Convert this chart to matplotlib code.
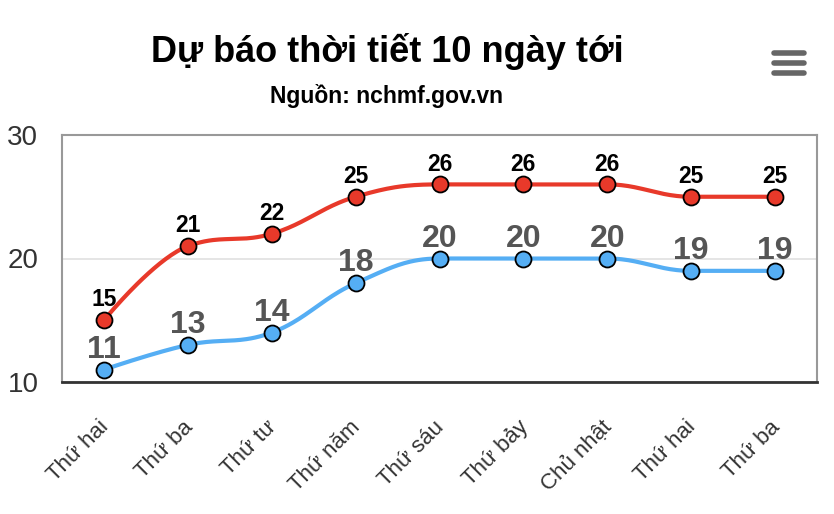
import matplotlib
matplotlib.use("Agg")
import matplotlib.pyplot as plt
from matplotlib.lines import Line2D
import matplotlib.transforms as mtransforms
import numpy as np

plt.rcParams['font.family'] = ['Liberation Sans', 'DejaVu Sans']

days = ['Thứ hai', 'Thứ ba', 'Thứ tư', 'Thứ năm', 'Thứ sáu', 'Thứ bảy', 'Chủ nhật', 'Thứ hai', 'Thứ ba']
temp_max = [15, 21, 22, 25, 26, 26, 26, 25, 25]
temp_min = [11, 13, 14, 18, 20, 20, 20, 19, 19]
y_ticks = [10, 20, 30]


def spline(xs, ys, n=40):
    # highcharts-like spline through the points (cubic beziers)
    xs = list(map(float, xs)); ys = list(map(float, ys))
    sm = 1.5; den = sm + 1
    rc = [None] * len(xs)
    lc = [None] * len(xs)
    for i in range(1, len(xs) - 1):
        px, py = xs[i], ys[i]
        lx, ly = xs[i - 1], ys[i - 1]
        nx, ny = xs[i + 1], ys[i + 1]
        lcx = (sm * px + lx) / den; lcy = (sm * py + ly) / den
        rcx = (sm * px + nx) / den; rcy = (sm * py + ny) / den
        corr = (rcy - lcy) * (rcx - px) / (rcx - lcx) + py - rcy
        lcy += corr; rcy += corr
        if lcy > ly and lcy > py:
            lcy = max(ly, py); rcy = 2 * py - lcy
        elif lcy < ly and lcy < py:
            lcy = min(ly, py); rcy = 2 * py - lcy
        if rcy > ny and rcy > py:
            rcy = max(ny, py); lcy = 2 * py - rcy
        elif rcy < ny and rcy < py:
            rcy = min(ny, py); lcy = 2 * py - rcy
        lc[i] = (lcx, lcy); rc[i] = (rcx, rcy)
    t = np.linspace(0, 1, n)
    outx, outy = [], []
    for i in range(1, len(xs)):
        p0 = (xs[i - 1], ys[i - 1])
        p1 = rc[i - 1] if rc[i - 1] else p0
        p3 = (xs[i], ys[i])
        p2 = lc[i] if lc[i] else p3
        bx = (1-t)**3*p0[0] + 3*(1-t)**2*t*p1[0] + 3*(1-t)*t**2*p2[0] + t**3*p3[0]
        by = (1-t)**3*p0[1] + 3*(1-t)**2*t*p1[1] + 3*(1-t)*t**2*p2[1] + t**3*p3[1]
        outx.extend(bx); outy.extend(by)
    return outx, outy


fig = plt.figure(figsize=(8.34, 5.14), dpi=100)
ax = fig.add_axes([62/834, 132/514, 755/834, 247/514])

x = np.arange(len(days))
series = [(temp_max, '#e8392a', 'black', 16.5, 10), (temp_min, '#55aef4', '#555555', 23, 8.5)]
for vals, col, lab_col, fs, off in series:
    sx, sy = spline(x, vals)
    ax.plot(sx, sy, color=col, lw=3, solid_capstyle='round', zorder=3)
    ax.plot(x, vals, 'o', ms=11.5, mfc=col, mec='black', mew=1.3, zorder=4)
    for xi, v in zip(x, vals):
        ax.annotate(str(v), (xi, v), xytext=(0, off), textcoords='offset points',
                    ha='center', va='baseline', fontsize=fs, fontweight='bold',
                    color=lab_col, zorder=5)

ax.set_xlim(-0.5, len(days) - 0.5)
ax.set_ylim(10, 30)
ax.set_yticks(y_ticks)
ax.set_yticklabels([str(v) for v in y_ticks], fontsize=20, color='#333333')
ax.set_xticks(x)
ax.set_xticklabels(days, rotation=45, ha='right', va='center_baseline',
                   rotation_mode='anchor', fontsize=16, color='#333333')
shift = mtransforms.ScaledTranslation(9/100, 0, fig.dpi_scale_trans)
for lab in ax.get_xticklabels():
    lab.set_transform(lab.get_transform() + shift)
ax.tick_params(axis='both', length=0)
ax.tick_params(axis='y', pad=17)
ax.tick_params(axis='x', pad=29)
ax.grid(axis='y', color='#e0e0e0', lw=1.2, zorder=0)
ax.set_axisbelow(True)
for s in ['left', 'top', 'right']:
    ax.spines[s].set_color('#999999')
    ax.spines[s].set_linewidth(1.5)
ax.spines['bottom'].set_color('#333333')
ax.spines['bottom'].set_linewidth(2)

fig.text(0.465, 1 - 62/514, 'Dự báo thời tiết 10 ngày tới', ha='center', va='baseline',
         fontsize=26, fontweight='bold', color='black')
fig.text(0.4634, 1 - 103/514, 'Nguồn: nchmf.gov.vn', ha='center', va='baseline',
         fontsize=16.5, fontweight='bold', color='black')

# menu icon
for yy in [53, 63, 73]:
    fig.add_artist(Line2D([774/834, 804/834], [1 - yy/514, 1 - yy/514], color='#666666',
                          lw=4, solid_capstyle='round', transform=fig.transFigure))

fig.savefig('out.png', dpi=100)
